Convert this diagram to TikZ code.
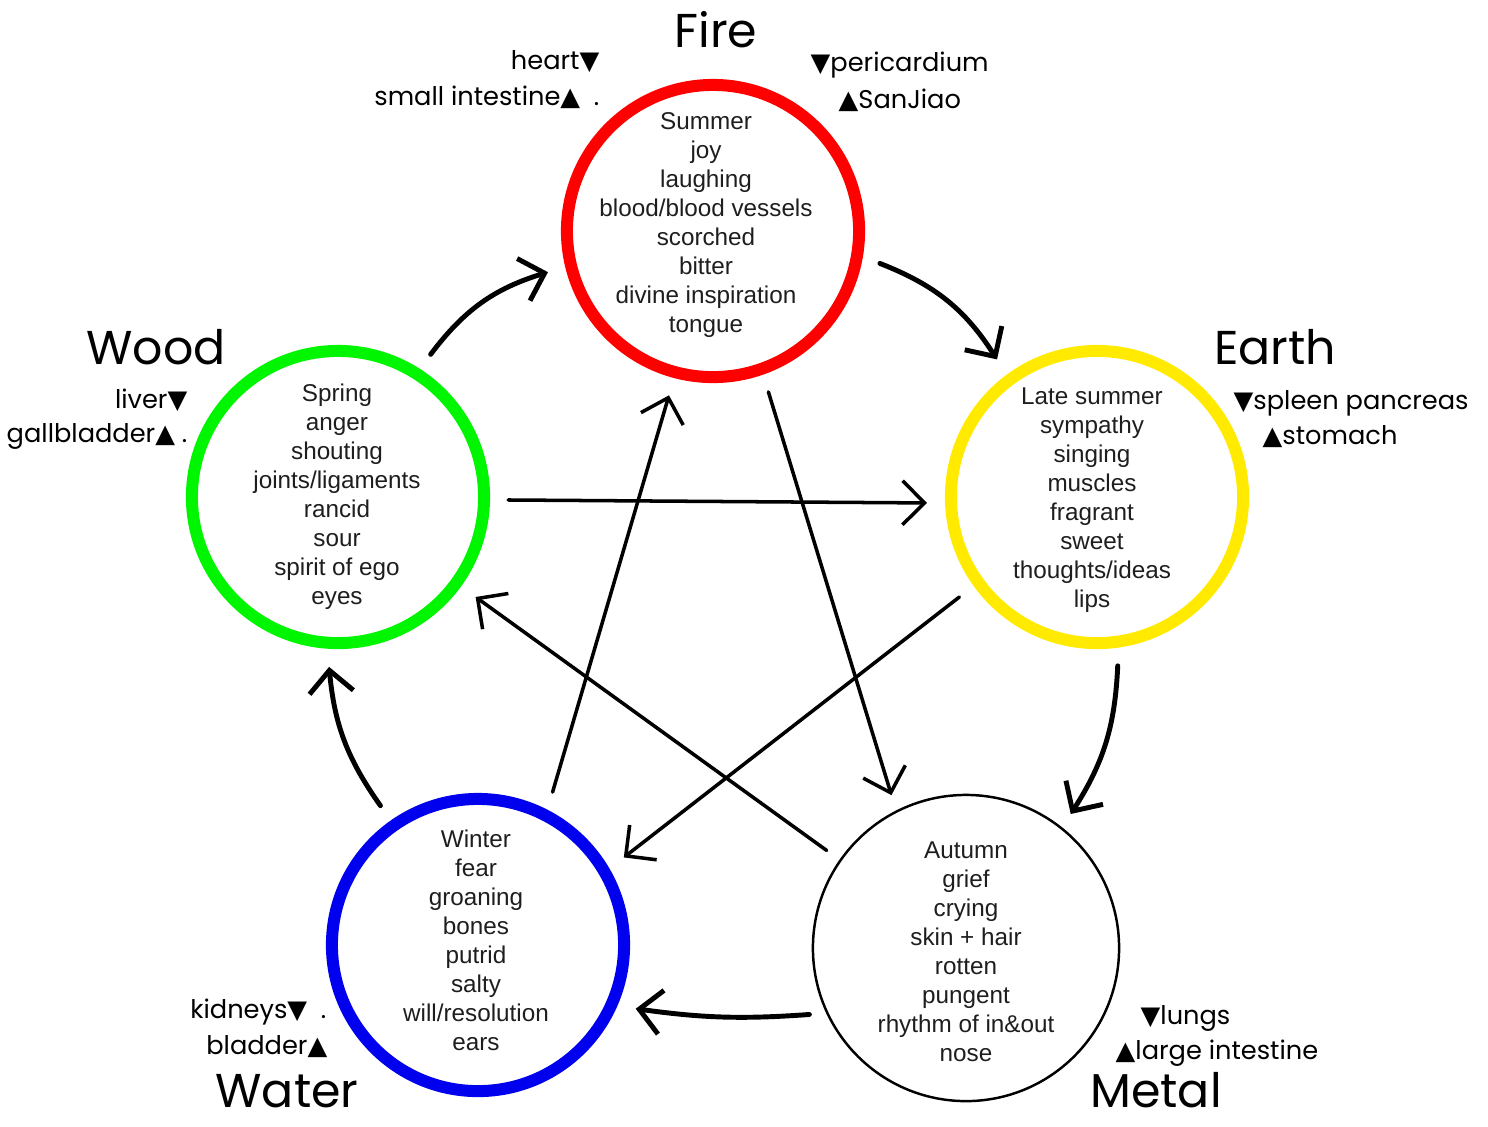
\documentclass[tikz,border=0pt]{standalone}
\usepackage{fontspec}
\setmainfont{Liberation Sans}
\newfontfamily\handfont{Poppins}
\newfontfamily\symfont{DejaVu Sans}
\usetikzlibrary{arrows.meta}
\definecolor{cFire}{RGB}{255,0,0}
\definecolor{cWood}{RGB}{0,245,0}
\definecolor{cEarth}{RGB}{255,234,0}
\definecolor{cWater}{RGB}{0,0,238}
\definecolor{cText}{RGB}{30,30,30}
\newcommand{\tridown}{{\symfont ▼}}
\newcommand{\triup}{{\symfont ▲}}
\tikzset{
	ring/.style   ={circle, draw=#1, line width=0.12cm, minimum size=2.92cm, inner sep=0pt, outer sep=0.24cm},
	inring/.style ={align=center, text=cText, font=\fontsize{6.9}{8.25}\selectfont, inner sep=0pt},
	element/.style={font=\handfont\fontsize{13.5}{16}\selectfont, inner sep=0pt},
	organ/.style  ={font=\handfont\fontsize{7.3}{9}\selectfont, inner sep=0pt},
	% generating and controlling cycle arrows
	gen/.style    ={-{Straight Barb[length=2.2mm, width=4.4mm]}, line width=1.4pt, line cap=round},
	ctrl/.style   ={-{Straight Barb[length=2.2mm, width=4.4mm]}, line width=1pt, line cap=round},
}
\begin{document}
\begin{tikzpicture}[x=0.01cm, y=-0.01cm]
	\useasboundingbox (0,0) rectangle (1488,1126);
	\node[ring=cFire] (fire) at (713,231) {};
	\node[ring=cWood] (wood) at (338,497) {};
	\node[ring=cEarth] (earth) at (1097,497) {};
	\node[ring=cWater] (water) at (478,945) {};
	\node[ring=black, line width=0.7pt, minimum size=3.06cm, outer sep=0.17cm] (metal) at (966,948) {};
	\node[inring] (fireTxt) at (706,225) {Summer\\joy\\laughing\\blood/blood vessels\\scorched\\bitter\\divine inspiration\\tongue};
	\node[inring] (woodTxt) at (337,497) {Spring\\anger\\shouting\\joints/ligaments\\rancid\\sour\\spirit of ego\\eyes};
	\node[inring] (earthTxt) at (1092,500) {Late summer\\sympathy\\singing\\muscles\\fragrant\\sweet\\thoughts/ideas\\lips};
	\node[inring] (waterTxt) at (476,940) {Winter\\fear\\groaning\\bones\\putrid\\salty\\will/resolution\\ears};
	\node[inring] (metalTxt) at (966,952) {Autumn\\grief\\crying\\skin + hair\\rotten\\pungent\\rhythm of in\&out\\nose};
	\node[element] (fireLbl) at (716,30) {Fire};
	\node[element] (woodLbl) at (156,347) {Wood};
	\node[element] (earthLbl) at (1275,347) {Earth};
	\node[element, anchor=base] (waterLbl) at (287,1107) {Water};
	\node[element, anchor=base] (metalLbl) at (1156,1107) {Metal};
	\node[organ, anchor=east] (heart) at (600,62) {heart\tridown};
	\node[organ, anchor=east] (smallInt) at (600,97) {small intestine\triup\ \ .};
	\node[organ, anchor=west] (pericard) at (810,65) {\tridown pericardium};
	\node[organ, anchor=west] (sanjiao) at (838,100) {\triup SanJiao};
	\node[organ, anchor=east] (liver) at (188,400) {liver\tridown};
	\node[organ, anchor=east] (gallbl) at (188,436) {gallbladder\triup\ .};
	\node[organ, anchor=west] (spleen) at (1233,403) {\tridown spleen pancreas};
	\node[organ, anchor=west] (stomach) at (1262,437) {\triup stomach};
	\node[organ, anchor=east] (kidneys) at (327,1012) {kidneys\tridown\ \ .};
	\node[organ, anchor=east] (bladder) at (328,1047) {bladder\triup};
	\node[organ, anchor=west] (lungs) at (1140,1018) {\tridown lungs};
	\node[organ, anchor=west] (largeInt) at (1115,1053) {\triup large intestine};
	\foreach \a/\b/\k in {wood.57/fire.194/18, fire.349/earth.126/18, earth.277/metal.52/15, metal.203/water.338/6, water.125/wood.267/15}
		\draw[gen] (\a) to[bend left=\k] (\b);
	\foreach \a/\b in {wood.359/earth.182, fire.289/metal.116, earth.216/water.31, metal.145/wood.324, water.64/fire.255}
		\draw[ctrl] (\a) -- (\b);
\end{tikzpicture}
\end{document}
